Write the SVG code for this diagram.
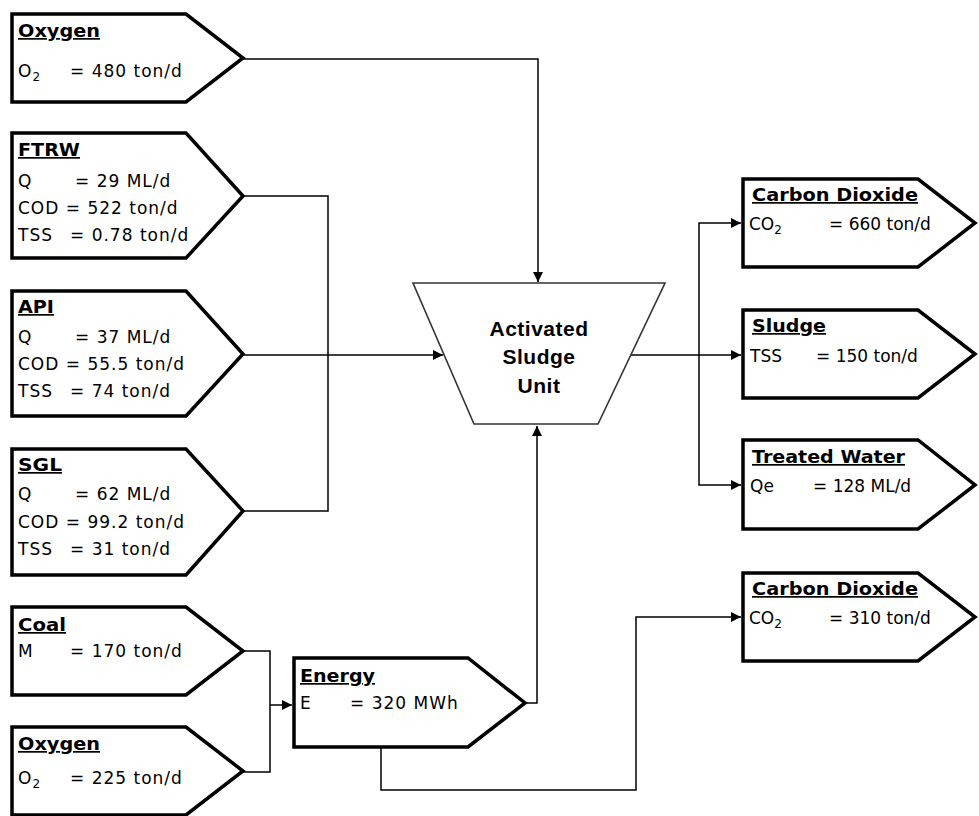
<svg xmlns="http://www.w3.org/2000/svg" width="979" height="816" viewBox="0 0 979 816">
<defs>
<marker id="arr" viewBox="0 0 10 10" refX="10" refY="5" markerWidth="10" markerHeight="10" markerUnits="userSpaceOnUse" orient="auto">
<path d="M0,0 L10,5 L0,10 z" fill="#000"/>
</marker>
<style>
.box{fill:#fff;stroke:#000;stroke-width:3.5;stroke-linejoin:miter}
.trap{fill:#fff;stroke:#333;stroke-width:1.6}
.conn{fill:none;stroke:#000;stroke-width:1.5}
.t{font-family:"DejaVu Sans","Verdana",sans-serif;font-weight:bold;font-size:17px;text-decoration:underline;fill:#000}
.b{font-family:"DejaVu Sans","Verdana",sans-serif;font-size:17px;fill:#000;letter-spacing:1px}
.r{font-family:"DejaVu Sans","Verdana",sans-serif;font-size:17px;fill:#000}
.u{font-family:"Liberation Sans",Arial,sans-serif;font-weight:bold;font-size:21px;fill:#000;text-anchor:middle;letter-spacing:0.5px}
</style>
</defs>
<rect width="979" height="816" fill="#fff"/>

<g id="connectors">
<path class="conn" d="M243,59 H538 V282" marker-end="url(#arr)"/>
<path class="conn" d="M243,196 H328 V511 H243"/>
<path class="conn" d="M243,355 H443" marker-end="url(#arr)"/>
<path class="conn" d="M628,355 H741" marker-end="url(#arr)"/>
<path class="conn" d="M699,355 V223 H741" marker-end="url(#arr)"/>
<path class="conn" d="M699,355 V485 H741" marker-end="url(#arr)"/>
<path class="conn" d="M243,651 H270 V772 H243"/>
<path class="conn" d="M270,705 H292" marker-end="url(#arr)"/>
<path class="conn" d="M525,703 H537 V426" marker-end="url(#arr)"/>
<path class="conn" d="M381,747 V790 H636 V617 H741" marker-end="url(#arr)"/>
</g>

<g id="oxygen1">
<path class="box" d="M12,14 H186 L243,58 L186,102 H12 Z"/>
<text class="t" x="18" y="37" textLength="82" lengthAdjust="spacingAndGlyphs">Oxygen</text>
<text class="b" x="18" y="77">O<tspan dy="4" font-size="12">2</tspan></text>
<text class="b" x="70" y="77">= 480 ton/d</text>
</g>

<g id="ftrw">
<path class="box" d="M12,133 H186 L243,196 L186,258 H12 Z"/>
<text class="t" x="18" y="156" textLength="62" lengthAdjust="spacingAndGlyphs">FTRW</text>
<text class="b" x="18" y="187">Q</text>
<text class="b" x="75" y="187">= 29 ML/d</text>
<text class="b" x="18" y="214">COD = 522 ton/d</text>
<text class="b" x="18" y="241">TSS</text>
<text class="b" x="70" y="241">= 0.78 ton/d</text>
</g>

<g id="api">
<path class="box" d="M12,291 H186 L243,354 L186,416 H12 Z"/>
<text class="t" x="18" y="313" textLength="36" lengthAdjust="spacingAndGlyphs">API</text>
<text class="b" x="18" y="343">Q</text>
<text class="b" x="75" y="343">= 37 ML/d</text>
<text class="b" x="18" y="370">COD = 55.5 ton/d</text>
<text class="b" x="18" y="397">TSS</text>
<text class="b" x="70" y="397">= 74 ton/d</text>
</g>

<g id="sgl">
<path class="box" d="M12,449 H186 L243,511 L186,575 H12 Z"/>
<text class="t" x="18" y="471" textLength="44" lengthAdjust="spacingAndGlyphs">SGL</text>
<text class="b" x="18" y="500">Q</text>
<text class="b" x="75" y="500">= 62 ML/d</text>
<text class="b" x="18" y="528">COD = 99.2 ton/d</text>
<text class="b" x="18" y="555">TSS</text>
<text class="b" x="70" y="555">= 31 ton/d</text>
</g>

<g id="coal">
<path class="box" d="M12,607 H186 L243,651 L186,695 H12 Z"/>
<text class="t" x="18" y="631" textLength="48" lengthAdjust="spacingAndGlyphs">Coal</text>
<text class="b" x="18" y="657">M</text>
<text class="b" x="70" y="657">= 170 ton/d</text>
</g>

<g id="oxygen2">
<path class="box" d="M12,727 H186 L243,771 L186,815 H12 Z"/>
<text class="t" x="18" y="750" textLength="82" lengthAdjust="spacingAndGlyphs">Oxygen</text>
<text class="b" x="18" y="784">O<tspan dy="4" font-size="12">2</tspan></text>
<text class="b" x="70" y="784">= 225 ton/d</text>
</g>

<g id="energy">
<path class="box" d="M294,658 H468 L525,703 L468,747 H294 Z"/>
<text class="t" x="300" y="682" textLength="75" lengthAdjust="spacingAndGlyphs">Energy</text>
<text class="b" x="300" y="709">E</text>
<text class="b" x="350" y="709">= 320 MWh</text>
</g>

<g id="activated-sludge-unit">
<path class="trap" d="M413,283 H665 L598,424 H474 Z"/>
<text class="u" x="539" y="336">Activated</text>
<text class="u" x="539" y="364">Sludge</text>
<text class="u" x="539" y="393">Unit</text>
</g>

<g id="carbon-dioxide1">
<path class="box" d="M743,179 H918 L975,223 L918,267 H743 Z"/>
<text class="t" x="752" y="201" textLength="166" lengthAdjust="spacingAndGlyphs">Carbon Dioxide</text>
<text class="r" x="749" y="230">CO<tspan dy="4" font-size="12">2</tspan></text>
<text class="r" x="829" y="230">= 660 ton/d</text>
</g>

<g id="sludge">
<path class="box" d="M743,310 H918 L975,354 L918,398 H743 Z"/>
<text class="t" x="752" y="332" textLength="74" lengthAdjust="spacingAndGlyphs">Sludge</text>
<text class="r" x="750" y="362">TSS</text>
<text class="r" x="816" y="362">= 150 ton/d</text>
</g>

<g id="treated-water">
<path class="box" d="M743,440 H918 L975,485 L918,529 H743 Z"/>
<text class="t" x="752" y="463" textLength="153" lengthAdjust="spacingAndGlyphs">Treated Water</text>
<text class="r" x="750" y="492">Qe</text>
<text class="r" x="813" y="492">= 128 ML/d</text>
</g>

<g id="carbon-dioxide2">
<path class="box" d="M743,573 H918 L975,617 L918,661 H743 Z"/>
<text class="t" x="752" y="595" textLength="166" lengthAdjust="spacingAndGlyphs">Carbon Dioxide</text>
<text class="r" x="749" y="624">CO<tspan dy="4" font-size="12">2</tspan></text>
<text class="r" x="829" y="624">= 310 ton/d</text>
</g>
</svg>
